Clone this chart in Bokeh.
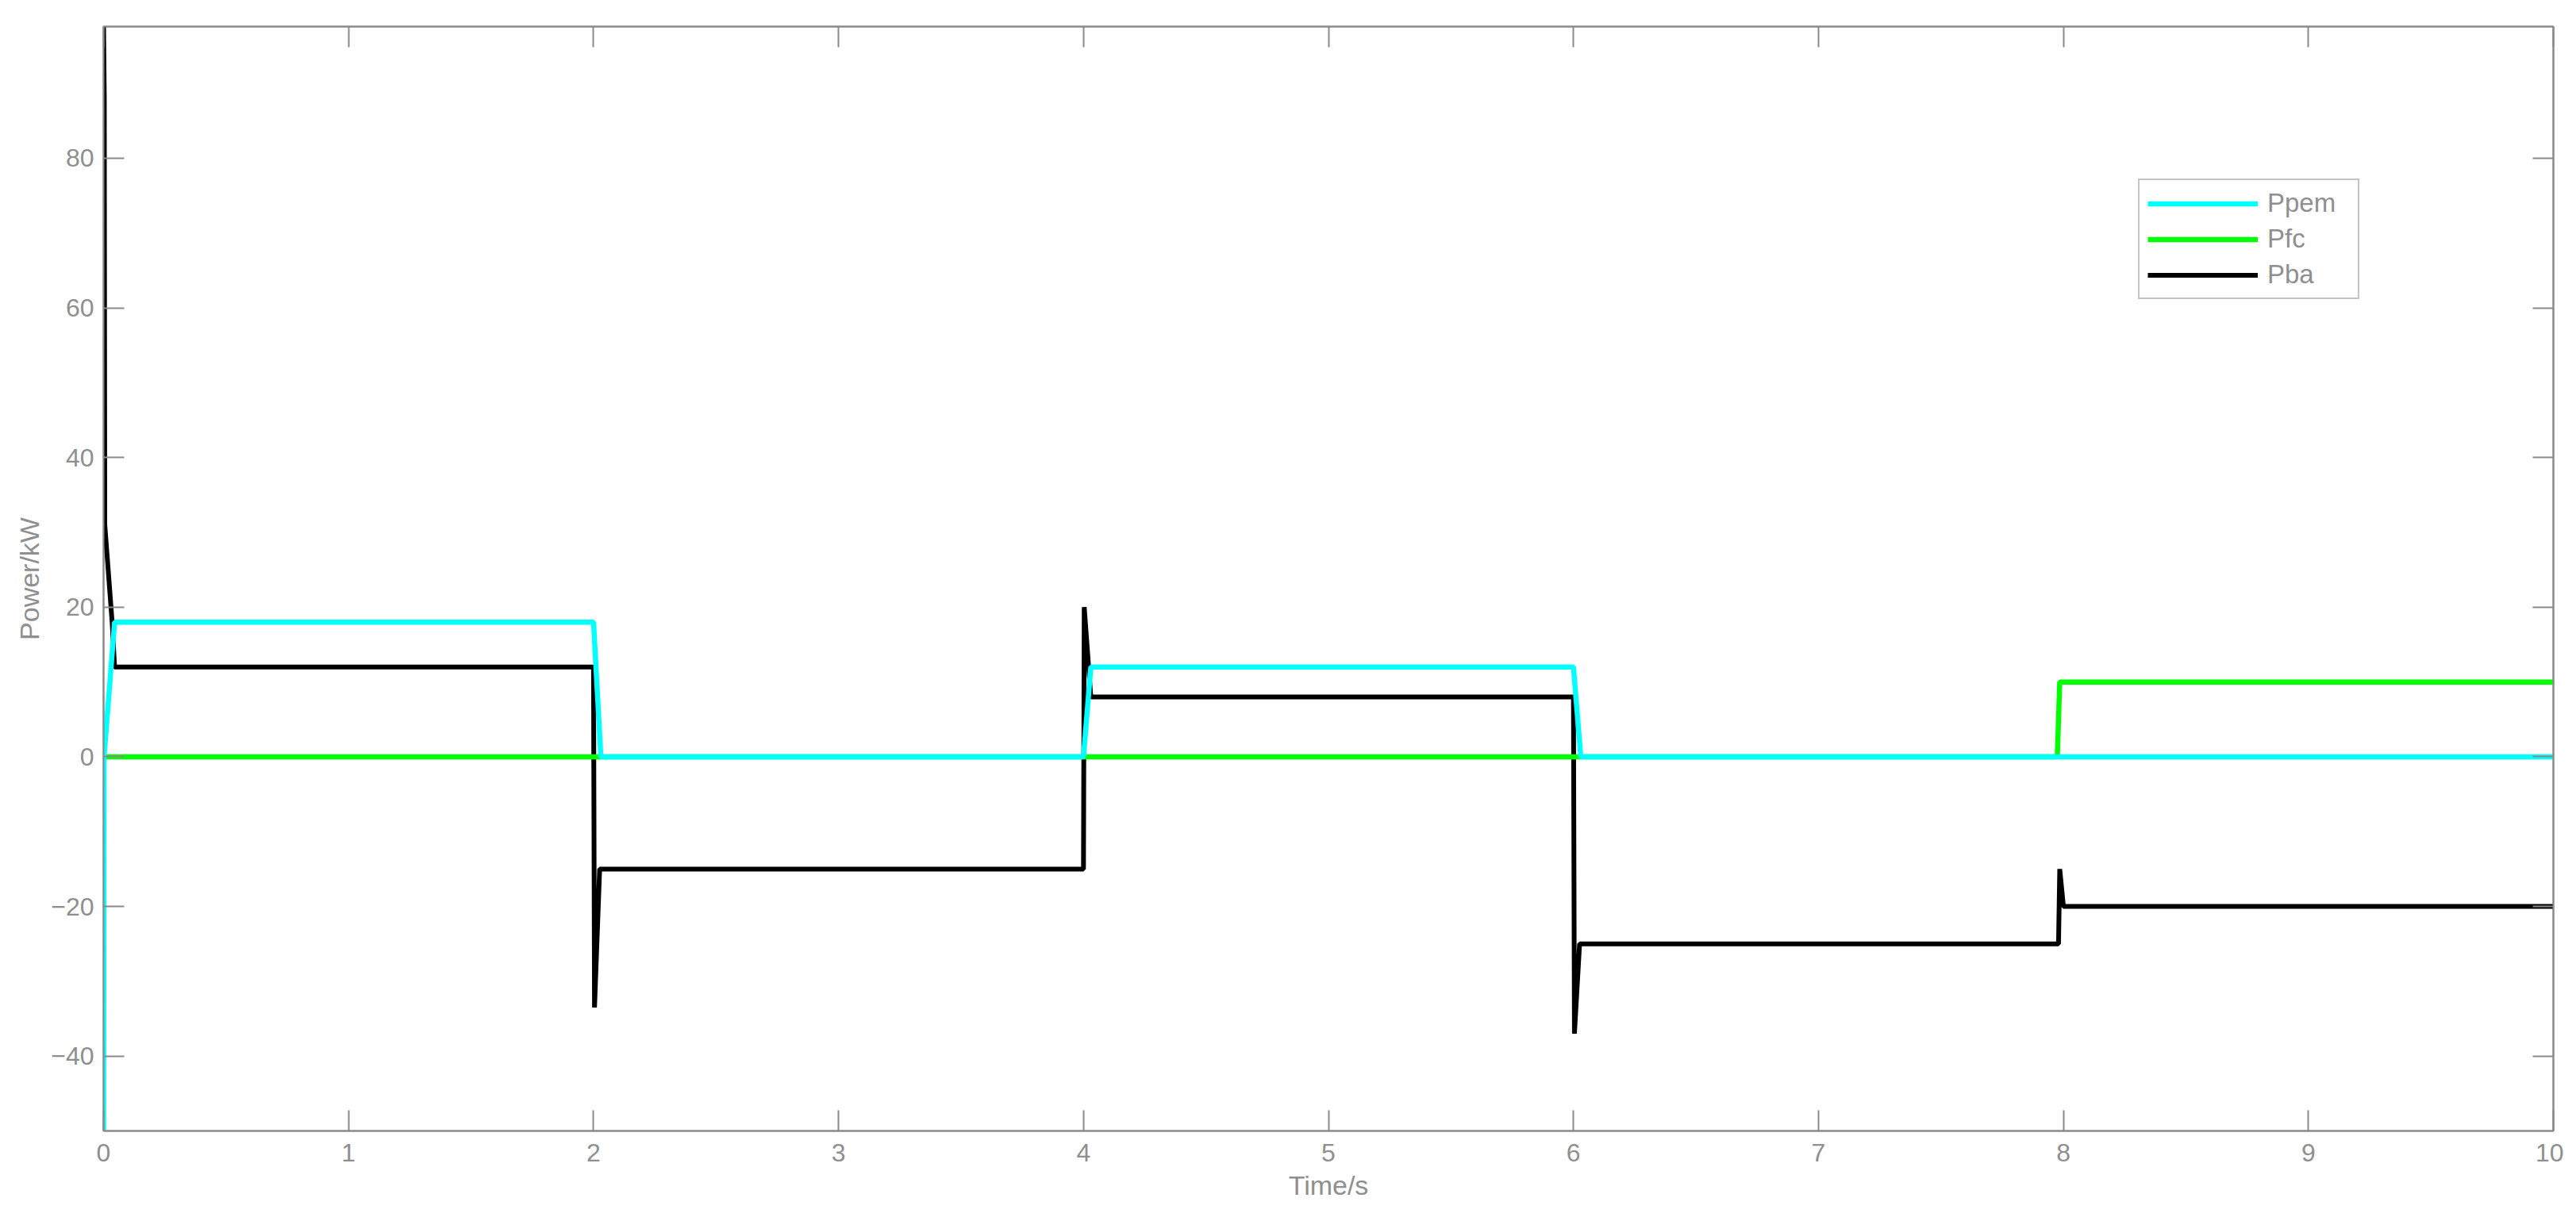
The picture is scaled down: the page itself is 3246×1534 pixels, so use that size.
from bokeh.plotting import figure
from bokeh.models import Range1d, LinearAxis, Legend, LegendItem, FixedTicker
from bokeh.embed import file_html
from bokeh.resources import INLINE

# ---- data ----
t_pem = [0.0, 0.002, 0.045, 2.0, 2.03, 4.0, 4.03, 6.0, 6.03, 10.0]
p_pem = [-50.0, 0.0, 18.0, 18.0, 0.0, 0.0, 12.0, 12.0, 0.0, 0.0]

t_fc = [0.005, 7.975, 7.985, 10.0]
p_fc = [0.0, 0.0, 10.0, 10.0]

t_ba = [0.0, 0.003, 0.005, 0.035, 0.045, 2.0, 2.004, 2.025, 4.0, 4.003, 4.03,
        6.0, 6.004, 6.025, 7.98, 7.985, 8.0, 10.0]
p_ba = [97.6, 88.0, 31.0, 18.0, 12.0, 12.0, -33.5, -15.0, -15.0, 20.0, 8.0,
        8.0, -37.0, -25.0, -25.0, -15.0, -20.0, -20.0]

x_ticks = [0, 1, 2, 3, 4, 5, 6, 7, 8, 9, 10]
y_ticks = [-40, -20, 0, 20, 40, 60, 80]

GRAY = "#8a8a8a"
TXT = "#8f8f8f"
FONT = "Liberation Sans"

p = figure(width=3230, height=1518, output_backend="svg", toolbar_location=None,
           x_range=Range1d(0, 10), y_range=Range1d(-50, 97.6),
           min_border_left=130, min_border_right=13, min_border_top=33,
           min_border_bottom=93, background_fill_color="white",
           border_fill_color="white")
p.xgrid.visible = False
p.ygrid.visible = False
p.outline_line_color = GRAY
p.outline_line_width = 2

for ax in (p.xaxis[0], p.yaxis[0]):
    ax.axis_line_color = GRAY
    ax.axis_line_width = 2
    ax.major_tick_line_color = GRAY
    ax.major_tick_line_width = 2
    ax.major_tick_in = 26
    ax.major_tick_out = 0
    ax.minor_tick_line_color = None
    ax.major_label_text_font = FONT
    ax.major_label_text_font_size = "32px"
    ax.major_label_text_color = TXT
    ax.axis_label_text_font = FONT
    ax.axis_label_text_font_size = "34px"
    ax.axis_label_text_color = TXT
    ax.axis_label_text_font_style = "normal"

p.xaxis[0].ticker = FixedTicker(ticks=x_ticks)
p.yaxis[0].ticker = FixedTicker(ticks=y_ticks)
p.xaxis[0].axis_label = "Time/s"
p.yaxis[0].axis_label = "Power/kW"
p.xaxis[0].major_label_standoff = 16
p.xaxis[0].axis_label_standoff = 8
p.yaxis[0].major_label_standoff = 12
p.yaxis[0].axis_label_standoff = 5

# mirrored ticks on top and right (MATLAB box)
top = LinearAxis(ticker=FixedTicker(ticks=x_ticks))
right = LinearAxis(ticker=FixedTicker(ticks=y_ticks))
for ax in (top, right):
    ax.axis_line_color = GRAY
    ax.axis_line_width = 2
    ax.major_tick_line_color = GRAY
    ax.major_tick_line_width = 2
    ax.major_tick_in = 26
    ax.major_tick_out = 0
    ax.minor_tick_line_color = None
    ax.major_label_text_font_size = "1px"
    ax.major_label_text_color = None
    ax.major_label_standoff = 0
p.add_layout(top, "above")
p.add_layout(right, "right")

r_ba = p.line(t_ba, p_ba, line_color="black", line_width=6)
r_fc = p.line(t_fc, p_fc, line_color="#00ff00", line_width=6.5)
r_pem = p.line(t_pem, p_pem, line_color="#00ffff", line_width=6.5)

legend = Legend(items=[LegendItem(label="Ppem", renderers=[r_pem]),
                       LegendItem(label="Pfc", renderers=[r_fc]),
                       LegendItem(label="Pba", renderers=[r_ba])],
                location=(2564, 1048))
legend.label_text_font = FONT
legend.label_text_font_size = "33px"
legend.label_text_color = TXT
legend.border_line_color = GRAY
legend.border_line_width = 2
legend.background_fill_color = "white"
legend.background_fill_alpha = 1
legend.padding = 10
legend.spacing = 7
legend.glyph_height = 37
legend.glyph_width = 139
legend.label_standoff = 12
legend.label_width = 104
legend.margin = 0
p.add_layout(legend, "center")

open("out.html", "w").write(file_html(p, INLINE))
